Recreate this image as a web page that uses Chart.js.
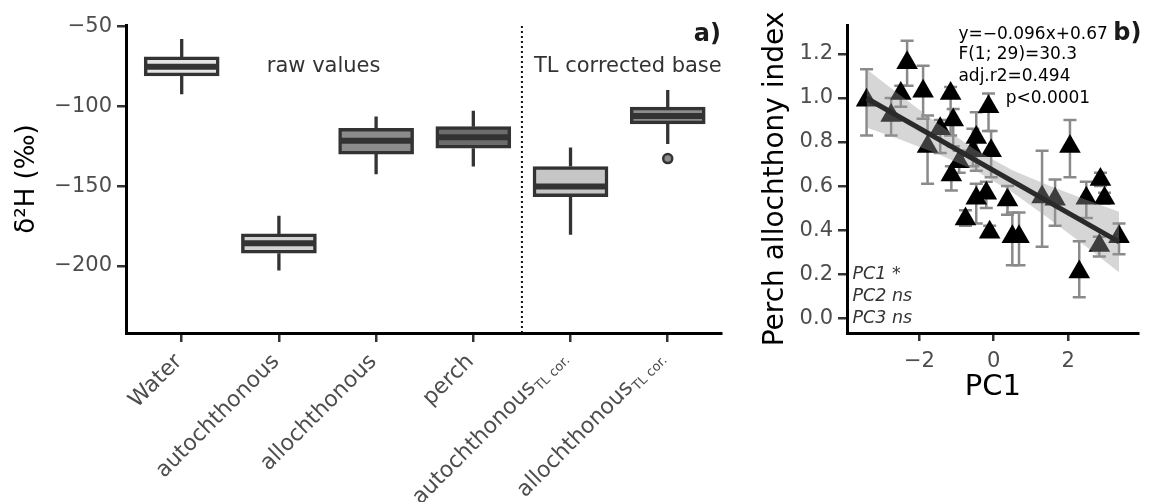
<!DOCTYPE html>
<html>
<head>
<meta charset="utf-8">
<script src="https://cdn.jsdelivr.net/npm/chart.js@4.4.1/dist/chart.umd.min.js"></script>
<style>
  html, body { margin: 0; padding: 0; background: #ffffff; }
  #wrap { position: relative; width: 1151px; height: 502px; overflow: hidden; background: #ffffff; }
  canvas { position: absolute; top: 0; }
  #isotopes { left: 0; }
  #allochthony { left: 745px; }
</style>
</head>
<body>
<div id="wrap">
  <canvas id="isotopes" width="745" height="502"></canvas>
  <canvas id="allochthony" width="406" height="502"></canvas>
</div>
<script>
// ---- a) δ2H of water, food sources and perch ----
const groups = ['Water', 'autochthonous', 'allochthonous', 'perch', 'autochthonous', 'allochthonous'];
const groupSubscripts = ['', '', '', '', 'TL cor.', 'TL cor.'];
const whiskerLow  = [-92.4, -202.9, -142.5, -137.7, -180.5, -123.5];
const quartile1   = [-80.9, -192.0, -129.9, -126.2, -156.5, -111.0];
const medians     = [-75.1, -185.7, -121.6, -119.3, -150.2, -106.0];
const quartile3   = [-69.0, -179.9, -113.7, -112.7, -137.7, -100.5];
const whiskerHigh = [-57.7, -168.6, -106.4, -102.8, -125.8, -89.7];
const outlierGroup = [5];
const outlierValue = [-132.7];
const d2hTicks = [-200, -150, -100, -50];
const rawCorrectedDivider = 3.5;

// ---- b) perch allochthony index against PC1 ----
const pc1 = [-3.42, -2.76, -2.50, -2.33, -1.90, -1.78, -1.44, -1.16, -1.09, -1.14,
             -0.93, -0.47, -0.56, -0.14, -0.07, -0.47, -0.20, -0.76, -0.11, 0.37,
             0.50, 0.68, 1.30, 1.65, 2.05, 2.30, 2.49, 2.84, 2.87, 2.98, 3.37];
const allochthony = [0.99, 0.92, 1.02, 1.16, 1.03, 0.78, 0.86, 1.02, 0.90, 0.65,
                     0.71, 0.82, 0.76, 0.96, 0.76, 0.545, 0.567, 0.45, 0.39, 0.537,
                     0.37, 0.37, 0.55, 0.54, 0.78, 0.21, 0.545, 0.33, 0.63, 0.545, 0.37];
const allochthonyLow = [0.83, 0.83, 0.96, 1.055, 0.905, 0.61, 0.75, 0.83, 0.78, 0.58,
                        0.66, 0.67, 0.69, 0.85, 0.64, 0.43, 0.50, 0.42, 0.37, 0.47,
                        0.24, 0.24, 0.325, 0.42, 0.64, 0.095, 0.455, 0.28, 0.60, 0.52, 0.29];
const allochthonyHigh = [1.13, 1.00, 1.055, 1.26, 1.146, 0.92, 0.90, 1.05, 0.95, 0.69,
                         0.76, 0.935, 0.86, 1.02, 0.85, 0.61, 0.62, 0.49, 0.42, 0.60,
                         0.48, 0.48, 0.76, 0.63, 0.90, 0.35, 0.62, 0.37, 0.66, 0.57, 0.43];
const fitSlope = -0.096;
const fitIntercept = 0.67;
const bandPC1   = [-3.42, -2.5, -1.5, -0.5, 0.5, 1.5, 2.5, 3.37];
const bandUpper = [1.13, 1.01, 0.883, 0.765, 0.672, 0.601, 0.537, 0.483];
const bandLower = [0.866, 0.81, 0.745, 0.671, 0.572, 0.451, 0.323, 0.209];
const fitStats = ['F(1; 29)=30.3', 'adj.r2=0.494'];
const fitP = 'p<0.0001';
const pcSignificance = ['PC1 *', 'PC2 ns', 'PC3 ns'];
const pcTicks = [-2, 0, 2];
const indexTicks = [0, 0.2, 0.4, 0.6, 0.8, 1.0, 1.2];

// ---- shared styling ----
const FONT = "'DejaVu Sans', 'Liberation Sans', sans-serif";
Chart.defaults.font.family = FONT;
const TICK_GREY = '#4d4d4d';
const DARK = '#333333';
const minus = v => String(v).replace('-', '\u2212');
const boxFills = ['#e4e4e4', '#d2d2d2', '#8c8c8c', '#6c6c6c', '#c6c6c6', '#8c8c8c'];
const BOX_WIDTH = 75;

function axisGrid(len) {
  return { display: true, drawOnChartArea: false, drawTicks: true, tickLength: len,
           tickColor: DARK, tickWidth: 2.5, lineWidth: 2.5, offset: false };
}
const axisBorder = { display: true, color: '#000000', width: 3 };

// whiskers, medians, category labels and panel texts for the box plot
const boxExtras = {
  id: 'boxExtras',
  beforeDatasetsDraw(chart) {
    const { ctx, scales: { x, y } } = chart;
    ctx.save();
    ctx.strokeStyle = DARK;
    ctx.lineWidth = 3.3;
    groups.forEach((g, i) => {
      const px = x.getPixelForValue(i);
      ctx.beginPath();
      ctx.moveTo(px, y.getPixelForValue(whiskerHigh[i]));
      ctx.lineTo(px, y.getPixelForValue(quartile3[i]));
      ctx.moveTo(px, y.getPixelForValue(quartile1[i]));
      ctx.lineTo(px, y.getPixelForValue(whiskerLow[i]));
      ctx.stroke();
    });
    ctx.restore();
  },
  afterDatasetsDraw(chart) {
    const { ctx, scales: { x, y } } = chart;
    ctx.save();
    ctx.strokeStyle = DARK;
    ctx.lineWidth = 6;
    groups.forEach((g, i) => {
      const px = x.getPixelForValue(i);
      const py = y.getPixelForValue(medians[i]);
      ctx.beginPath();
      ctx.moveTo(px - BOX_WIDTH / 2 + 1, py);
      ctx.lineTo(px + BOX_WIDTH / 2 - 1, py);
      ctx.stroke();
    });
    ctx.restore();
  },
  afterDraw(chart) {
    const { ctx, scales: { x, y }, chartArea } = chart;
    ctx.save();
    // rotated category labels with optional subscript
    groups.forEach((g, i) => {
      const px = x.getPixelForValue(i);
      ctx.save();
      ctx.translate(px - 10, chartArea.bottom + 18);
      ctx.rotate(-Math.PI / 4);
      ctx.fillStyle = TICK_GREY;
      ctx.textBaseline = 'alphabetic';
      ctx.textAlign = 'left';
      ctx.font = `22px ${FONT}`;
      const wm = ctx.measureText(g).width;
      let ws = 0;
      const sub = groupSubscripts[i];
      if (sub) {
        ctx.font = `13px ${FONT}`;
        ws = ctx.measureText(sub).width + 1;
      }
      const base = sub ? 10 : 16;
      ctx.font = `22px ${FONT}`;
      ctx.fillText(g, -(wm + ws), base);
      if (sub) {
        ctx.font = `13px ${FONT}`;
        ctx.fillText(sub, -ws + 1, base + 4);
      }
      ctx.restore();
    });
    // panel texts
    ctx.fillStyle = DARK;
    ctx.textBaseline = 'middle';
    ctx.font = `21px ${FONT}`;
    ctx.textAlign = 'center';
    ctx.fillText('raw values', x.getPixelForValue(1.46), y.getPixelForValue(-75.3));
    ctx.fillText('TL corrected base', x.getPixelForValue(4.59), y.getPixelForValue(-74.8));
    ctx.fillStyle = '#1a1a1a';
    ctx.font = `bold 24px ${FONT}`;
    ctx.textAlign = 'right';
    ctx.fillText('a)', chartArea.right, y.getPixelForValue(-55.2));
    ctx.restore();
  }
};

new Chart(document.getElementById('isotopes'), {
  type: 'bar',
  data: {
    datasets: [
      {
        type: 'bar',
        data: groups.map((g, i) => ({ x: i, y: [quartile1[i], quartile3[i]] })),
        backgroundColor: boxFills,
        borderColor: DARK,
        borderWidth: 3.5,
        borderSkipped: false,
        barThickness: BOX_WIDTH,
        order: 2
      },
      {
        type: 'scatter',
        data: outlierGroup.map((g, i) => ({ x: g, y: outlierValue[i] })),
        pointRadius: 4.5,
        pointBackgroundColor: '#8c8c8c',
        pointBorderColor: DARK,
        pointBorderWidth: 2.5,
        order: 1
      },
      {
        type: 'line',
        data: [{ x: rawCorrectedDivider, y: -242 }, { x: rawCorrectedDivider, y: -49 }],
        borderColor: '#111111',
        borderWidth: 2,
        borderDash: [2, 3],
        pointRadius: 0,
        order: 3
      }
    ]
  },
  options: {
    responsive: false,
    animation: false,
    devicePixelRatio: 1,
    layout: { padding: { top: 25, right: 24, left: 0, bottom: 0 } },
    plugins: { legend: { display: false }, tooltip: { enabled: false } },
    scales: {
      x: {
        type: 'linear', min: -0.573, max: 5.548, offset: false,
        afterBuildTicks: s => { s.ticks = groups.map((g, i) => ({ value: i })); },
        afterFit: s => { s.height = 169; },
        ticks: { display: false },
        grid: axisGrid(9),
        border: axisBorder
      },
      y: {
        type: 'linear', min: -242, max: -49,
        afterBuildTicks: s => { s.ticks = d2hTicks.map(v => ({ value: v })); },
        afterFit: s => { s.width = 126; },
        ticks: { callback: v => minus(v), font: { size: 21 }, color: TICK_GREY, padding: 5 },
        grid: axisGrid(9),
        border: axisBorder,
        title: { display: true, text: 'δ²H (‰)', font: { size: 26 }, color: '#000000',
                 padding: { top: 12, bottom: 0 } }
      }
    }
  },
  plugins: [boxExtras]
});

// error bars and fit annotations for the regression panel
const fitExtras = {
  id: 'fitExtras',
  beforeDatasetsDraw(chart) {
    const { ctx, scales: { x, y }, chartArea } = chart;
    ctx.save();
    ctx.beginPath();
    ctx.rect(chartArea.left, chartArea.top, chartArea.right - chartArea.left, chartArea.bottom - chartArea.top);
    ctx.clip();
    ctx.strokeStyle = '#8a8a8a';
    ctx.lineWidth = 2.5;
    pc1.forEach((v, i) => {
      const px = x.getPixelForValue(v);
      const lo = y.getPixelForValue(allochthonyLow[i]);
      const hi = y.getPixelForValue(allochthonyHigh[i]);
      ctx.beginPath();
      ctx.moveTo(px, lo); ctx.lineTo(px, hi);
      ctx.moveTo(px - 6.5, lo); ctx.lineTo(px + 6.5, lo);
      ctx.moveTo(px - 6.5, hi); ctx.lineTo(px + 6.5, hi);
      ctx.stroke();
    });
    ctx.restore();
  },
  afterDraw(chart) {
    const { ctx, scales: { x, y }, chartArea } = chart;
    ctx.save();
    ctx.textBaseline = 'middle';
    ctx.textAlign = 'left';
    ctx.fillStyle = '#000000';
    ctx.font = `17px ${FONT}`;
    const eq = `y=${minus(fitSlope)}x+${fitIntercept}`;
    const statX = x.getPixelForValue(-0.95);
    ctx.fillText(eq, statX, y.getPixelForValue(1.286));
    ctx.fillText(fitStats[0], statX, y.getPixelForValue(1.195));
    ctx.fillText(fitStats[1], statX, y.getPixelForValue(1.095));
    ctx.fillText(fitP, x.getPixelForValue(0.32), y.getPixelForValue(0.999));
    ctx.fillStyle = DARK;
    ctx.font = `italic 17.5px ${FONT}`;
    const pcY = [0.201, 0.097, -0.003];
    pcSignificance.forEach((t, i) => ctx.fillText(t, x.getPixelForValue(-3.8), y.getPixelForValue(pcY[i])));
    ctx.fillStyle = '#1a1a1a';
    ctx.font = `bold 24px ${FONT}`;
    ctx.textAlign = 'right';
    ctx.fillText('b)', chartArea.right + 3, y.getPixelForValue(1.29));
    ctx.restore();
  }
};

const fitEnds = [Math.min(...pc1), Math.max(...pc1)];

new Chart(document.getElementById('allochthony'), {
  type: 'scatter',
  data: {
    datasets: [
      {
        type: 'line',
        data: fitEnds.map(v => ({ x: v, y: fitIntercept + fitSlope * v })),
        borderColor: '#2a2a2a',
        borderWidth: 5,
        pointRadius: 0,
        order: 0
      },
      {
        type: 'line',
        data: bandPC1.map((v, i) => ({ x: v, y: bandUpper[i] })),
        fill: '+1',
        backgroundColor: 'rgba(153,153,153,0.4)',
        borderColor: 'rgba(0,0,0,0)',
        borderWidth: 0,
        pointRadius: 0,
        order: 1
      },
      {
        type: 'line',
        data: bandPC1.map((v, i) => ({ x: v, y: bandLower[i] })),
        fill: false,
        borderColor: 'rgba(0,0,0,0)',
        borderWidth: 0,
        pointRadius: 0,
        order: 2
      },
      {
        type: 'scatter',
        data: pc1.map((v, i) => ({ x: v, y: allochthony[i] })),
        pointStyle: 'triangle',
        pointRadius: 12.5,
        backgroundColor: '#000000',
        borderWidth: 0,
        order: 3
      }
    ]
  },
  options: {
    responsive: false,
    animation: false,
    devicePixelRatio: 1,
    layout: { padding: { top: 25, right: 8, left: 0, bottom: 0 } },
    plugins: { legend: { display: false }, tooltip: { enabled: false } },
    scales: {
      x: {
        type: 'linear', min: -3.947, max: 3.894,
        afterBuildTicks: s => { s.ticks = pcTicks.map(v => ({ value: v })); },
        afterFit: s => { s.height = 169; },
        ticks: { callback: v => minus(v), font: { size: 21 }, color: TICK_GREY, padding: 8 },
        grid: axisGrid(8),
        border: axisBorder,
        title: { display: true, text: 'PC1', font: { size: 29 }, color: '#000000',
                 padding: { top: 0, bottom: 97 } }
      },
      y: {
        type: 'linear', min: -0.067, max: 1.331,
        afterBuildTicks: s => { s.ticks = indexTicks.map(v => ({ value: v })); },
        afterFit: s => { s.width = 102; },
        ticks: { callback: v => v.toFixed(1), font: { size: 21 }, color: TICK_GREY, padding: 5 },
        grid: axisGrid(9),
        border: axisBorder,
        title: { display: true, text: 'Perch allochthony index', font: { size: 28 }, color: '#000000',
                 padding: { top: 14, bottom: 0 } }
      }
    }
  },
  plugins: [fitExtras]
});
</script>
</body>
</html>
